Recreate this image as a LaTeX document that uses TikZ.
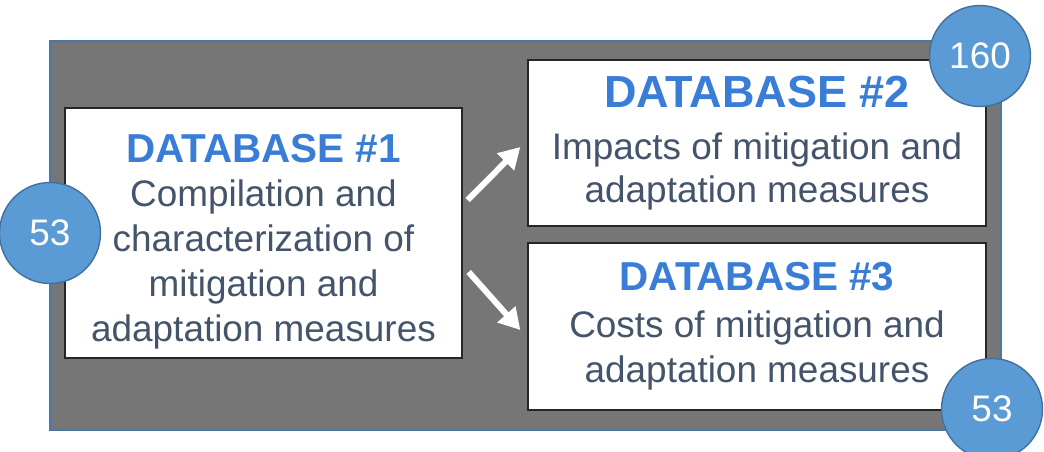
\documentclass[tikz,border=0pt]{standalone}
\usepackage{fontspec}
\setmainfont{Liberation Sans}
\usepackage{tikz}
\usetikzlibrary{arrows.meta, positioning}
\definecolor{framegray}{RGB}{118, 118, 118}
\definecolor{frameblue}{RGB}{74, 120, 166}
\definecolor{badgefill}{RGB}{91, 155, 213}
\definecolor{badgeline}{RGB}{65, 113, 156}
\definecolor{titleblue}{RGB}{58, 125, 214}
\definecolor{bodyslate}{RGB}{68, 84, 106}

\begin{document}
\begin{tikzpicture}[
    frame/.style={draw=frameblue, fill=framegray, line width=1.1pt},
    dbbox/.style={draw=black!85, fill=white, line width=0.8pt, align=center, text=bodyslate, inner sep=0pt, font=\fontsize{21}{25.6}\selectfont},
    badge/.style={circle, draw=badgeline, fill=badgefill, line width=0.8pt, minimum size=2.02cm, inner sep=0pt, text=white, font=\fontsize{21}{25}\selectfont},
    flow/.style={draw=white, line width=0.12cm, -{Triangle[length=0.42cm, width=0.46cm]}},
]
    \useasboundingbox (0, 0) rectangle (20.88, -9.02);

    % Frame
    \node[frame, minimum width=19.02cm, minimum height=7.78cm] (frame) at (10.51, -4.71) {};

    % Databases
    \node[dbbox, minimum width=7.94cm, minimum height=5cm] (db1) at (5.27, -4.66)
        {{\fontsize{23}{25.6}\selectfont\bfseries\color{titleblue}\rule{0pt}{26pt}DATABASE \#1}\\[-1pt]
         Compilation and\\characterization of\\mitigation and\\adaptation measures};
    \node[dbbox, minimum width=9.16cm, minimum height=3.32cm, font=\fontsize{21}{24.5}\selectfont] (db2) at (15.14, -2.86)
        {{\fontsize{25.6}{25.6}\selectfont\bfseries\color{titleblue}DATABASE \#2}\\[5pt]
         Impacts of mitigation and\\adaptation measures};
    \node[dbbox, minimum width=9.16cm, minimum height=3.34cm] (db3) at (15.14, -6.53)
        {{\fontsize{23}{25.6}\selectfont\bfseries\color{titleblue}DATABASE \#3}\\[1pt]
         Costs of mitigation and\\adaptation measures};

    % Counts
    \node[badge] (n1) at (1.0, -4.66) {53};
    \node[badge] (n2) at (19.6, -1.12) {160};
    \node[badge] (n3) at (19.84, -8.18) {53};

    % Connections
    \draw[flow] ([shift={(0.1, 0.66)}]db1.east) -- ([shift={(-0.14, -0.08)}]db2.west);
    \draw[flow] ([shift={(0.12, -0.78)}]db1.east) -- ([shift={(-0.14, -0.07)}]db3.west);

\end{tikzpicture}
\end{document}
